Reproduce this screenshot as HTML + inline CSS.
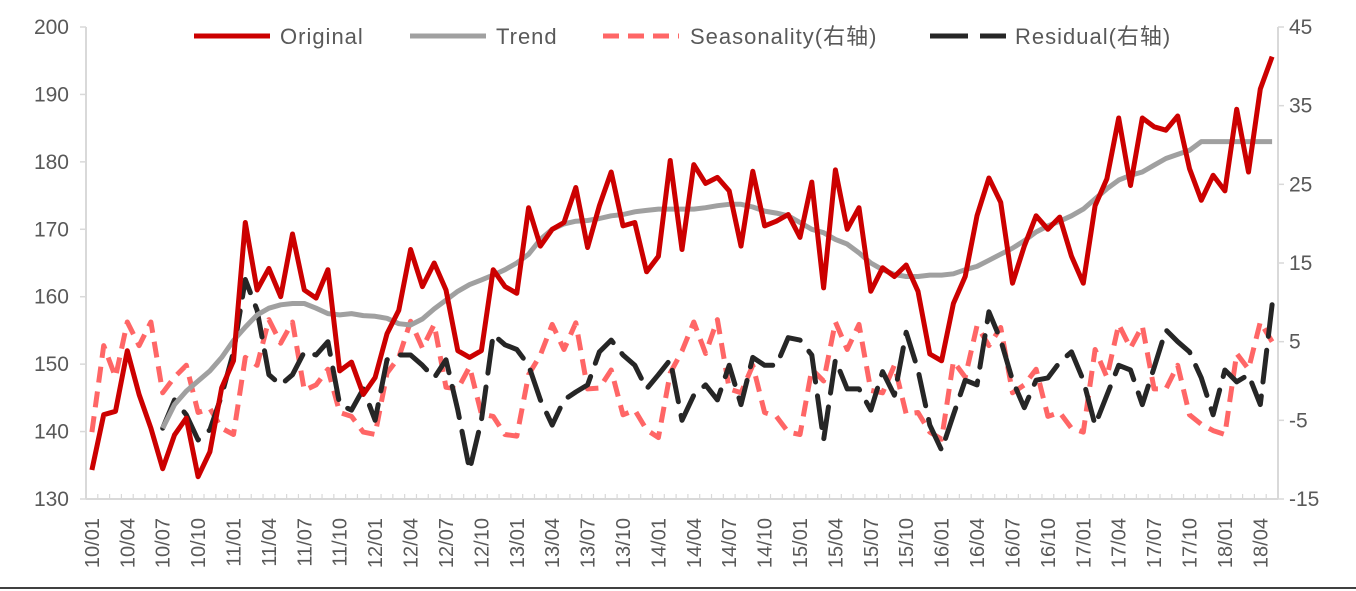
<!DOCTYPE html>
<html><head><meta charset="utf-8"><style>
html,body{margin:0;padding:0;background:#fff;width:1356px;height:591px;overflow:hidden}
svg text{font-family:"Liberation Sans","Noto Sans CJK SC",sans-serif;fill:#595959}
</style></head><body>
<svg id="chart" width="1356" height="591" viewBox="0 0 1356 591" xmlns="http://www.w3.org/2000/svg">
<g id="axes"></g>
<g id="series"></g>
<g id="legend"></g>
<line x1="0" y1="588" x2="1356" y2="588" stroke="#000" stroke-width="1.5"/>
</svg>
<script>
const original=[134.3,142.5,143,152,145.5,140.5,134.5,139.5,142,133.3,137,146.5,
150.5,171,161,164.2,160,169.3,161,159.8,164,149,150.3,145.5,
148,154.5,158,167,161.5,165,161,152,151,152,164,161.5,
160.5,173.2,167.5,170,171,176.2,167.3,173.5,178.5,170.5,171,163.7,
166,180.2,167,179.6,176.8,177.7,175.7,167.5,178.6,170.5,171.2,172.2,
168.8,177,161.3,178.8,170,173.2,160.8,164.3,163,164.7,160.8,151.5,
150.5,159,163,172,177.6,174,162,167.5,172,170,171.8,166,
162,173.5,177.5,186.5,176.5,186.5,185.2,184.7,186.8,179,174.3,178,
175.7,187.8,178.5,190.8,195.6];
const trend=[null,null,null,null,null,null,140.5,144,146,147.5,149,151,
153.5,155.5,157.3,158.3,158.8,159,159,158.3,157.5,157.3,157.5,157.2,
157.1,156.8,156,155.8,156.7,158.2,159.5,160.8,161.8,162.5,163.2,164,
165,166.3,168.5,170,170.8,171.2,171.3,171.6,172,172.2,172.6,172.8,
173,173,173,173,173.2,173.5,173.7,173.7,173.3,172.7,172.4,172,
171,170,169.5,168.5,167.8,166.5,165,164,163.3,163,163,163.2,
163.2,163.4,164,164.5,165.4,166.3,167.2,168.3,169.6,170.5,171.2,172,
173,174.5,176,177.3,178,178.5,179.5,180.5,181.1,181.7,183,183,
183,183,183,183,183];
const seasonality=[-6.5,4.5,0.5,7.5,4.5,7.5,-1.5,0.5,2,-4,-3.5,-6,
-6.8,3,2,7.8,4.8,7.5,-1.2,-0.5,1.5,-4,-4.5,-6.5,
-6.8,1,3,7.6,4.2,7.2,-0.8,-1,1.8,-4.2,-4.5,-6.8,
-7,0.8,3.3,7.2,4,7.4,-1,-0.9,1.4,-4.3,-3.7,-6.2,
-7.2,1,3.8,7.5,3.5,7.8,-1,-1.5,2,-4,-4.5,-6.5,
-6.8,1.5,0,7.5,4,7.2,-1.2,-1.5,2,-4.2,-4,-6.5,
-7.4,2.5,0.5,7,4.5,6.8,-1.5,-0.5,1.5,-4.5,-4,-6,
-6.5,4,0.5,7.2,4.2,7,-1,-1,2,-4.3,-5.5,-6.3,
-6.8,3.5,1.5,7.5,5];
const residual=[null,null,null,null,null,null,-6,-2.4,-4.3,-7.5,-6.2,-1.8,
3.7,12.9,9,0.8,-0.5,0.8,3.7,3.3,5,-3,-3.7,-1,
-5,2.7,3.3,3.3,2,0.4,2.7,-3.7,-11.3,-5,5.9,4.6,
4,2,-2.4,-5.6,-2.4,-1.4,-0.5,3.7,5.2,3.3,2,-1,
0.8,2.7,-5,-1.8,-0.5,-2.4,2,-3,3,2,2,5.5,
5.2,3.3,-7.5,2.7,-1,-1,-3.7,1.2,-1.8,6.2,1.4,-5.6,
-8.8,-4.3,0.1,-0.5,8.8,5.2,0.1,-3.4,0.1,0.4,2.4,3.7,
0.1,-5.6,-1.8,2,1.4,-3,1.7,6.5,5,3.7,0.4,-4.3,
1.4,-0.1,0.8,-3,9.7];
const leftTicks=[130,140,150,160,170,180,190,200];
const rightTicks=[-15,-5,5,15,25,35,45];
const NS='http://www.w3.org/2000/svg';
const X0=86,X1=1278,Y0=27,Y1=499,N=original.length;
const step=(X1-X0)/N;
const xs=i=>X0+step*(i+0.5);
const yl=v=>Y1-(v-130)/70*(Y1-Y0);
const yr=v=>Y1-(v+15)/60*(Y1-Y0);
function el(tag,attrs,parent,text){const e=document.createElementNS(NS,tag);for(const k in attrs)e.setAttribute(k,attrs[k]);if(text!==undefined)e.textContent=text;parent.appendChild(e);return e;}
const axes=document.getElementById('axes');
let a=el('line',{x1:X0,y1:Y0,x2:X0,y2:Y1,stroke:'#d9d9d9','stroke-width':2},axes);


a=el('line',{x1:X1,y1:Y0,x2:X1,y2:Y1,stroke:'#d9d9d9','stroke-width':2},axes);


a=el('line',{x1:X0,y1:Y1,x2:X1,y2:Y1,stroke:'#d9d9d9','stroke-width':2},axes);


leftTicks.forEach(v=>{
  const t=el('text',{x:69,y:yl(v)+7,'text-anchor':'end','font-size':21},axes,String(v));
  
  
  const m=el('line',{x1:X0-6,y1:yl(v),x2:X0,y2:yl(v),stroke:'#d9d9d9','stroke-width':1.5},axes);
  
  
});
rightTicks.forEach(v=>{
  const t=el('text',{x:1289,y:yr(v)+7,'text-anchor':'start','font-size':21},axes,String(v));
  
  
  const m=el('line',{x1:X1,y1:yr(v),x2:X1+6,y2:yr(v),stroke:'#d9d9d9','stroke-width':1.5},axes);
  
  
});
for(let i=0;i<=N;i++){
  const x=X0+step*i;
  const m=el('line',{x1:x,y1:Y1-5,x2:x,y2:Y1,stroke:'#d9d9d9','stroke-width':1.2},axes);
  
  
}
for(let i=0;i<N;i+=3){
  const yy=10+Math.floor(i/12), mm=(i%12)+1;
  const lab=yy+'/'+(mm<10?'0'+mm:mm);
  const x=xs(i)+7,y=518;
  const t=el('text',{x:x,y:y,transform:`rotate(-90 ${x} ${y})`,'text-anchor':'end','font-size':20},axes,lab);
  
  
}
const ser=document.getElementById('series');
function pathFor(arr,yf){let d='',pen=false;arr.forEach((v,i)=>{if(v===null){pen=false;return;}d+=(pen?'L':'M')+xs(i).toFixed(1)+','+yf(v).toFixed(1);pen=true;});return d;}
let p=el('path',{d:pathFor(seasonality,yr),fill:'none',stroke:'#ff6666','stroke-width':5,'stroke-dasharray':'16,9','stroke-linejoin':'round'},ser);


p=el('path',{d:pathFor(residual,yr),fill:'none',stroke:'#262626','stroke-width':5,'stroke-dasharray':'32,14','stroke-linecap':'round','stroke-linejoin':'round'},ser);


p=el('path',{d:pathFor(trend,yl),fill:'none',stroke:'#a0a0a0','stroke-width':5,'stroke-linejoin':'round'},ser);


p=el('path',{d:pathFor(original,yl),fill:'none',stroke:'#cc0000','stroke-width':5,'stroke-linejoin':'round'},ser);


const leg=document.getElementById('legend');
const items=[['Original','#cc0000','',194,280],['Trend','#a0a0a0','',410,496],['Seasonality(右轴)','#ff6666','16,9',603,690],['Residual(右轴)','#262626','38,12',930,1015]];
items.forEach(it=>{
  const g=el('g',{},leg);
  
  
  el('line',{x1:it[3],y1:36,x2:it[3]+76,y2:36,stroke:it[1],'stroke-width':5,'stroke-dasharray':it[2]||'none'},g);
  el('text',{x:it[4],y:44,'font-size':22,'letter-spacing':'1'},g,it[0]);
});
</script>
</body></html>
